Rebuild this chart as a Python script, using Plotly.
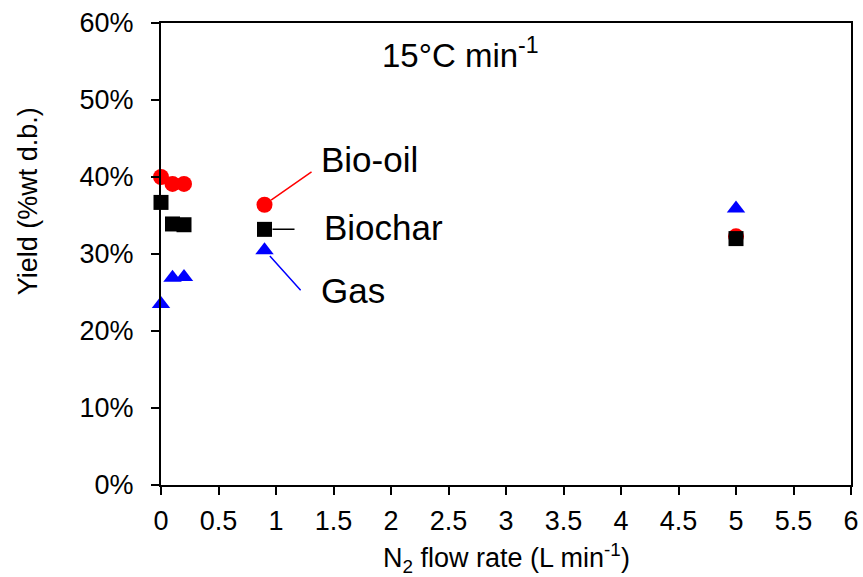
import plotly.graph_objects as go

# Data
flow_rate = [0, 0.1, 0.2, 0.9, 5]
bio_oil = [40.0, 39.1, 39.1, 36.4, 32.3]
biochar = [36.7, 33.9, 33.8, 33.2, 32.0]
gas = [23.5, 26.9, 27.0, 30.5, 35.9]

FONT = "Arial, Liberation Sans, sans-serif"

fig = go.Figure()
fig.add_trace(go.Scatter(x=flow_rate, y=bio_oil, mode="markers", name="Bio-oil",
                         marker=dict(symbol="circle", size=16, color="#ff0000"), cliponaxis=False))
fig.add_trace(go.Scatter(x=flow_rate, y=gas, mode="markers", name="Gas",
                         marker=dict(symbol="triangle-up", size=16, color="#0000ff"), cliponaxis=False))
fig.add_trace(go.Scatter(x=flow_rate, y=biochar, mode="markers", name="Biochar",
                         marker=dict(symbol="square", size=15, color="#000000"), cliponaxis=False))

# leader lines (tail in data coords, head at the point of x=0.9)
leaders = [
    (bio_oil[3], 1.322, 40.8, "#ff0000"),
    (biochar[3], 1.174, biochar[3], "#000000"),
    (gas[3], 1.226, 25.1, "#0000ff"),
]
for yv, tx, ty, col in leaders:
    fig.add_annotation(x=flow_rate[3], y=yv, ax=tx, ay=ty, xref="x", yref="y",
                       axref="x", ayref="y", text="", showarrow=True, arrowhead=0,
                       arrowwidth=1.5, arrowcolor=col, standoff=8)

labels = [("Bio-oil", 1.37, 42.3), ("Biochar", 1.40, 33.5), ("Gas", 1.37, 25.3)]
for t, lx, ly in labels:
    fig.add_annotation(x=lx, y=ly, xref="x", yref="y", text=t, showarrow=False,
                       xanchor="left", yanchor="middle",
                       font=dict(family=FONT, size=35, color="black"))

fig.add_annotation(x=1.90, y=56.1, xref="x", yref="y", text="15°C min<sup>-1</sup>",
                   showarrow=False, xanchor="left", yanchor="middle",
                   font=dict(family=FONT, size=33, color="black"))

# axis titles
fig.add_annotation(x=0.5, y=-0.157, xref="paper", yref="paper",
                   text="N<sub>2</sub> flow rate (L min<sup>-1</sup>)", showarrow=False,
                   xanchor="center", yanchor="middle",
                   font=dict(family=FONT, size=27, color="black"))
fig.add_annotation(x=-0.1935, y=0.615, xref="paper", yref="paper",
                   text="Yield (%wt d.b.)", showarrow=False, textangle=-90,
                   xanchor="center", yanchor="middle",
                   font=dict(family=FONT, size=27, color="black"))

fig.update_layout(
    width=863, height=577,
    margin=dict(l=161, r=12, t=23, b=92, autoexpand=False),
    paper_bgcolor="white", plot_bgcolor="white",
    showlegend=False,
    font=dict(family=FONT, size=27, color="black"),
)
fig.update_xaxes(range=[0, 6], dtick=0.5, tick0=0, showgrid=False, zeroline=False,
                 showline=True, linecolor="black", linewidth=2, mirror=True,
                 ticks="outside", ticklen=8, tickwidth=2, tickcolor="black",
                 tickfont=dict(size=27), ticklabelstandoff=3, automargin=False)
fig.update_yaxes(range=[0, 60], dtick=10, tick0=0, ticksuffix="%", showgrid=False,
                 zeroline=False, showline=True, linecolor="black", linewidth=2,
                 mirror=True, ticks="outside", ticklen=8, tickwidth=2, tickcolor="black",
                 tickfont=dict(size=27), ticklabelstandoff=12, automargin=False)

fig.write_html("out.html")
